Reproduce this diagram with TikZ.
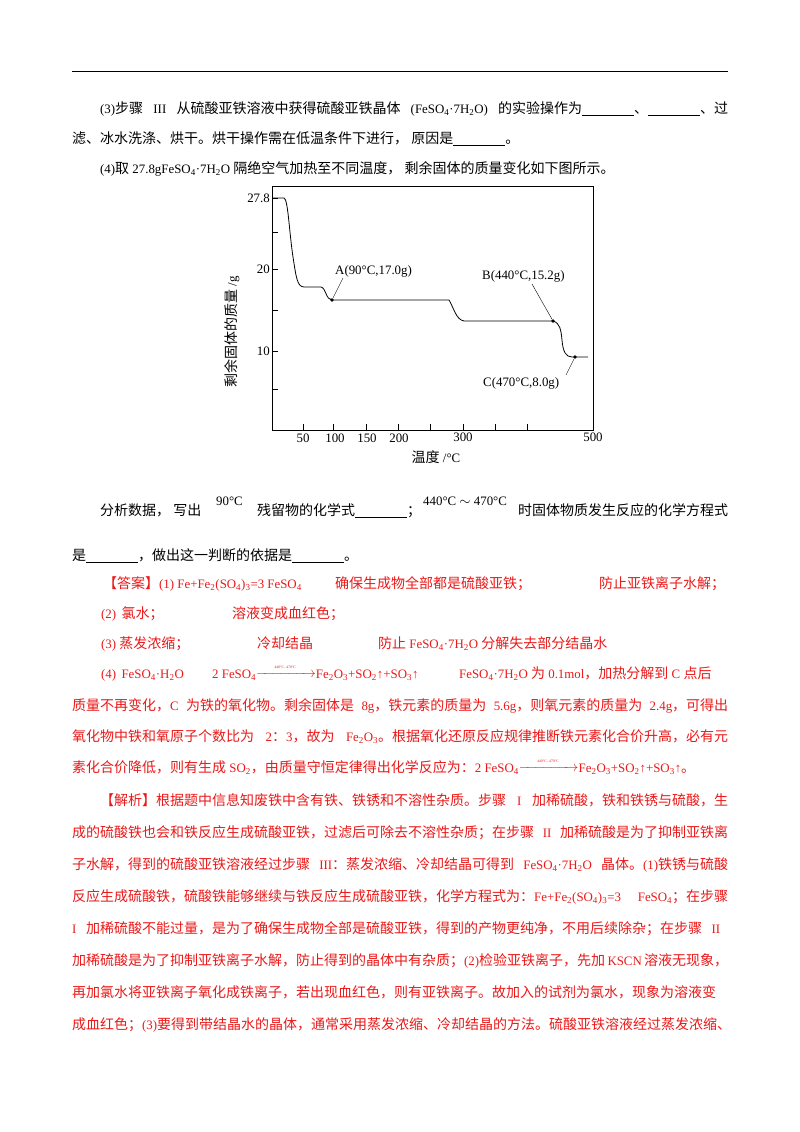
\documentclass[tikz,border=0pt]{standalone}
\usepackage{fontspec}
\usepackage{amsmath}
\setmainfont[Scale=0.92]{Liberation Serif}
\newfontfamily\cjkf{Noto Sans CJK SC}
\newfontfamily\latf[Scale=0.92]{Liberation Serif}
\newcount\mycc
\mycc="4E00 \loop \XeTeXcharclass\mycc=7 \advance\mycc by 1 \ifnum\mycc<"A000 \repeat
\mycc="3000 \loop \XeTeXcharclass\mycc=7 \advance\mycc by 1 \ifnum\mycc<"3040 \repeat
\mycc="FF00 \loop \XeTeXcharclass\mycc=7 \advance\mycc by 1 \ifnum\mycc<"FF5F \repeat
\XeTeXinterchartokenstate=1
\XeTeXinterchartoks 0 7 {\cjkf}
\XeTeXinterchartoks 4095 7 {\cjkf}
\XeTeXinterchartoks 7 0 {\latf}
\XeTeXinterchartoks 7 4095 {\latf}
\XeTeXlinebreaklocale "zh"
\XeTeXlinebreakskip=0pt plus 3pt
\usetikzlibrary{arrows.meta}
\definecolor{ans}{RGB}{235,25,25}
\newcommand\sub[1]{\textsubscript{#1}}
\newcommand\rx{\raisebox{1pt}{$\xrightarrow{\makebox[52pt]{\fontsize{4}{4}\selectfont 440°C\,-\,470°C}}$}}
\newcommand\bl{\underline{\hspace{52pt}}}
\begin{document}
\begin{tikzpicture}[x=1pt,y=-1pt,
  txt/.style={anchor=base west,inner sep=0pt,font=\fontsize{14}{16}\selectfont},
  rtxt/.style={txt,text=ans},
  full/.style={anchor=base west,inner sep=0pt,font=\fontsize{14}{16}\selectfont,text=ans},
  lab/.style={inner sep=0pt,font=\fontsize{14}{15}\selectfont},
  curve/.style={line width=0.8pt},
  dotm/.style={circle,fill,inner sep=1.3pt}]
\useasboundingbox (0,0) rectangle (800,1132);
\fill[white] (0,0) rectangle (800,1132);
\coordinate (r1) at (72,72); \coordinate (r2) at (728,72);
\draw[line width=1pt] (r1) -- (r2);
% question text
\node[txt] (q1) at (100,113) {\makebox[628pt][s]{(3)步骤 III 从硫酸亚铁溶液中获得硫酸亚铁晶体 (FeSO\sub4·7H\sub2O) 的实验操作为\bl、\bl、过}};
\node[txt] (q2) at (72,143) {滤、冰水洗涤、烘干。烘干操作需在低温条件下进行， 原因是\bl。};
\node[txt] (q3) at (100,173) {(4)取 27.8gFeSO\sub4·7H\sub2O 隔绝空气加热至不同温度， 剩余固体的质量变化如下图所示。};
% chart
\draw[line width=0.8pt] (272,186) rectangle (593,430);
\foreach \y in {198,232,269,310,351,389} \draw (272,\y) -- (278,\y);
\foreach \x in {303,333,366,398,430,463,495,527} \draw (\x,430) -- (\x,424);
\node[lab,anchor=east] (t278) at (270,198) {27.8};
\node[lab,anchor=east] (t20) at (270,269) {20};
\node[lab,anchor=east] (t10) at (270,351) {10};
\node[lab] (x50) at (303,438) {50};
\node[lab] (x100) at (335,438) {100};
\node[lab] (x150) at (367,438) {150};
\node[lab] (x200) at (399,438) {200};
\node[lab] (x300) at (463,437) {300};
\node[lab] (x500) at (593,437) {500};
\node[lab] (xl) at (436,457) {温度 /°C};
\node[lab,rotate=90] (yl) at (232,332) {剩余固体的质量 /g};
\draw[curve] (272,198) -- (284,198) .. controls (288,199) and (289,230) .. (293,257)
  .. controls (296,276) and (297,287) .. (304,287) -- (321,287)
  .. controls (326,288) and (326,300) .. (332,300) -- (449,300)
  .. controls (453,306) and (456,320) .. (464,321) -- (553,321)
  .. controls (560,323) and (561,330) .. (562,340)
  .. controls (563,352) and (566,357) .. (572,357) -- (588,357);
\node[dotm] (A) at (332,300) {};
\node[dotm] (B) at (553,321) {};
\node[dotm] (C) at (575,357) {};
\node[lab,anchor=west] (Al) at (335,271) {A(90°C,17.0g)};
\node[lab,anchor=west] (Bl) at (482,276) {B(440°C,15.2g)};
\node[lab,anchor=west] (Cl) at (483,383) {C(470°C,8.0g)};
\coordinate (Ae) at (343,278); \coordinate (Be) at (532,284); \coordinate (Ce) at (566,375);
\draw (Ae) -- (A); \draw (Be) -- (B); \draw (Ce) -- (C);
% analysis line
\node[txt] (a1) at (100,515) {分析数据， 写出};
\node[txt,font=\fontsize{14}{15}\selectfont] (a2) at (216,505) {90°C};
\node[txt] (a3) at (257,515) {残留物的化学式\bl；};
\node[txt,font=\fontsize{14}{15}\selectfont] (a4) at (423,505) {440°C $\sim$ 470°C};
\node[txt] (a5) at (518,515) {时固体物质发生反应的化学方程式};
\node[txt] (a6) at (72,560) {是\bl，做出这一判断的依据是\bl。};
% answer
\node[rtxt] (b1) at (103,588) {【答案】(1) Fe+Fe\sub2(SO\sub4)\sub3=3 FeSO\sub4};
\node[rtxt] (b2) at (335,588) {确保生成物全部都是硫酸亚铁；};
\node[rtxt] (b3) at (599,588) {防止亚铁离子水解；};
\node[rtxt] (c1) at (101,618) {(2) \,氯水；};
\node[rtxt] (c2) at (232,618) {溶液变成血红色；};
\node[rtxt] (d1) at (101,648) {(3) 蒸发浓缩；};
\node[rtxt] (d2) at (257,648) {冷却结晶};
\node[rtxt] (d3) at (378,648) {防止 FeSO\sub4·7H\sub2O 分解失去部分结晶水};
\node[rtxt] (e1) at (101,678) {(4) \,FeSO\sub4·H\sub2O};
\node[rtxt] (e2) at (212,678) {2 FeSO\sub4\rx Fe\sub2O\sub3+SO\sub2↑+SO\sub3↑};
\node[rtxt] (e3) at (459,678) {FeSO\sub4·7H\sub2O 为 0.1mol，加热分解到 C 点后};
\node[full] (f1) at (72,710) {\makebox[656pt][s]{质量不再变化，C 为铁的氧化物。剩余固体是 8g，铁元素的质量为 5.6g，则氧元素的质量为 2.4g，可得出}};
\node[full] (f2) at (72,741) {\makebox[656pt][s]{氧化物中铁和氧原子个数比为 2：3，故为 Fe\sub2O\sub3。根据氧化还原反应规律推断铁元素化合价升高，必有元}};
\node[full] (f3) at (72,772) {素化合价降低，则有生成 SO\sub2，由质量守恒定律得出化学反应为：2 FeSO\sub4\rx Fe\sub2O\sub3+SO\sub2↑+SO\sub3↑。};
% analysis
\node[full] (g1) at (100,805) {\makebox[628pt][s]{【解析】根据题中信息知废铁中含有铁、铁锈和不溶性杂质。步骤 I 加稀硫酸，铁和铁锈与硫酸，生}};
\node[full] (g2) at (72,837) {\makebox[656pt][s]{成的硫酸铁也会和铁反应生成硫酸亚铁，过滤后可除去不溶性杂质；在步骤 II 加稀硫酸是为了抑制亚铁离}};
\node[full] (g3) at (72,869) {\makebox[656pt][s]{子水解，得到的硫酸亚铁溶液经过步骤 III：蒸发浓缩、冷却结晶可得到 FeSO\sub4·7H\sub2O 晶体。(1)铁锈与硫酸}};
\node[full] (g4) at (72,901) {\makebox[656pt][s]{反应生成硫酸铁，硫酸铁能够继续与铁反应生成硫酸亚铁，化学方程式为：Fe+Fe\sub2(SO\sub4)\sub3=3 FeSO\sub4；在步骤}};
\node[full] (g5) at (72,933) {\makebox[648pt][s]{I 加稀硫酸不能过量，是为了确保生成物全部是硫酸亚铁，得到的产物更纯净，不用后续除杂；在步骤 II}};
\node[full] (g6) at (72,965) {\makebox[656pt][s]{加稀硫酸是为了抑制亚铁离子水解，防止得到的晶体中有杂质；(2)检验亚铁离子，先加 KSCN 溶液无现象，}};
\node[full] (g7) at (72,997) {\makebox[656pt][s]{再加氯水将亚铁离子氧化成铁离子，若出现血红色，则有亚铁离子。故加入的试剂为氯水，现象为溶液变}};
\node[full] (g8) at (72,1029) {\makebox[656pt][s]{成血红色；(3)要得到带结晶水的晶体，通常采用蒸发浓缩、冷却结晶的方法。硫酸亚铁溶液经过蒸发浓缩、}};
\end{tikzpicture}
\end{document}
